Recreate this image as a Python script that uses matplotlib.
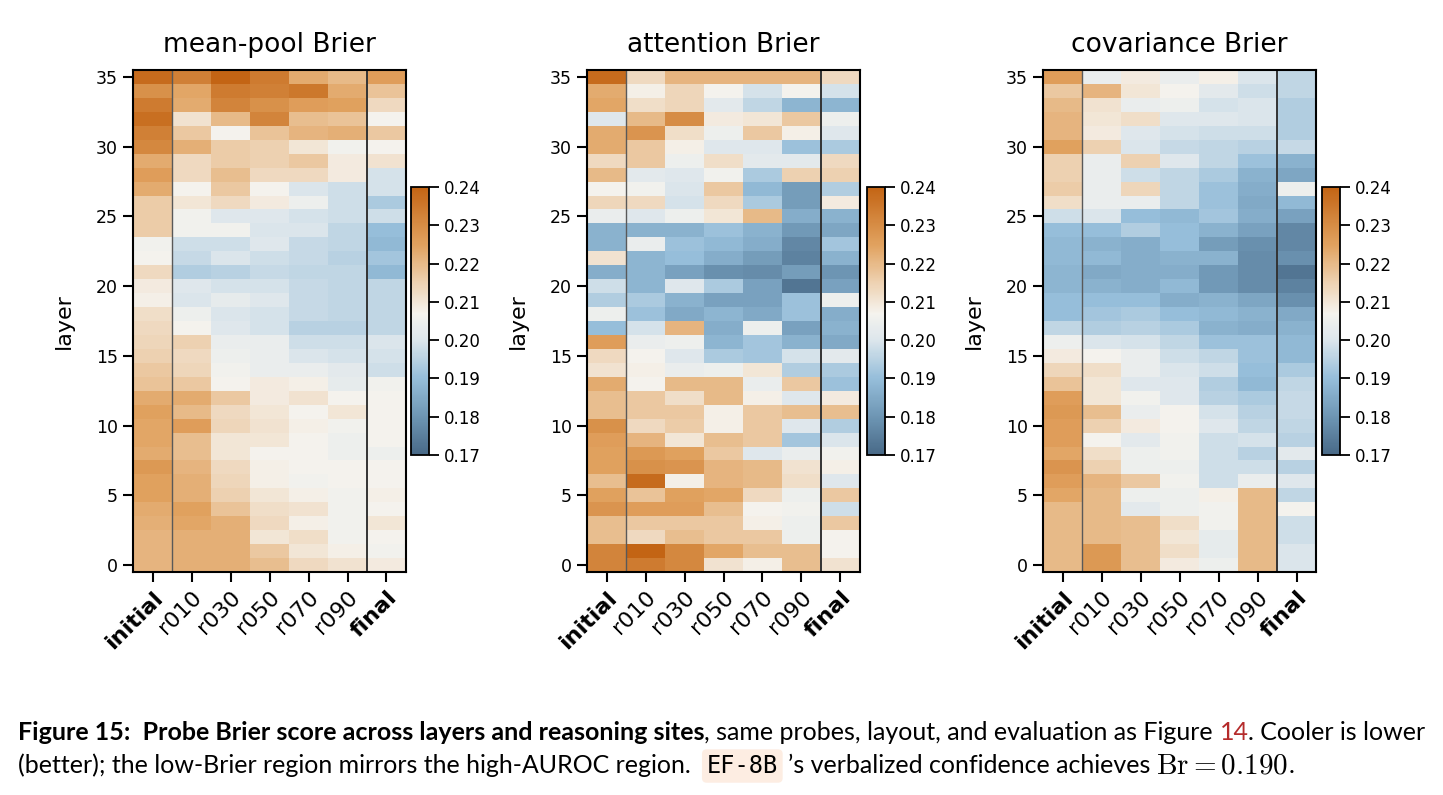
import matplotlib
matplotlib.use("Agg")
import matplotlib.pyplot as plt
import numpy as np
from matplotlib.colors import LinearSegmentedColormap, Normalize

# column labels (reasoning sites) and layers
sites = ["initial", "r010", "r030", "r050", "r070", "r090", "final"]
layers = np.arange(36)

# Brier per site, listed layer 0 -> 35
mean_initial = [0.221, 0.221, 0.221, 0.222, 0.223, 0.225, 0.225, 0.227, 0.223, 0.224, 0.224, 0.225, 0.223, 0.218, 0.217, 0.215, 0.214, 0.213,
                0.212, 0.208, 0.209, 0.213, 0.207, 0.206, 0.216, 0.216, 0.216, 0.223, 0.226, 0.223, 0.231, 0.233, 0.237, 0.234, 0.229, 0.238]
mean_r010 = [0.222, 0.222, 0.222, 0.224, 0.225, 0.222, 0.222, 0.221, 0.219, 0.219, 0.226, 0.220, 0.223, 0.217, 0.214, 0.213, 0.215, 0.207,
             0.205, 0.200, 0.201, 0.194, 0.197, 0.198, 0.206, 0.206, 0.210, 0.207, 0.213, 0.213, 0.222, 0.217, 0.211, 0.223, 0.224, 0.233]
mean_r030 = [0.222, 0.222, 0.222, 0.222, 0.218, 0.215, 0.214, 0.213, 0.210, 0.210, 0.214, 0.213, 0.217, 0.207, 0.206, 0.205, 0.204, 0.201,
             0.200, 0.203, 0.199, 0.195, 0.200, 0.198, 0.206, 0.201, 0.213, 0.217, 0.219, 0.216, 0.216, 0.207, 0.220, 0.232, 0.234, 0.240]
mean_r050 = [0.219, 0.217, 0.210, 0.213, 0.212, 0.210, 0.208, 0.208, 0.207, 0.210, 0.211, 0.210, 0.209, 0.209, 0.204, 0.204, 0.204, 0.199,
             0.199, 0.201, 0.199, 0.197, 0.198, 0.201, 0.200, 0.201, 0.209, 0.207, 0.213, 0.215, 0.215, 0.218, 0.232, 0.229, 0.233, 0.234]
mean_r070 = [0.213, 0.210, 0.212, 0.208, 0.211, 0.208, 0.206, 0.207, 0.207, 0.207, 0.208, 0.207, 0.211, 0.208, 0.204, 0.200, 0.198, 0.195,
             0.197, 0.197, 0.197, 0.196, 0.197, 0.197, 0.200, 0.199, 0.205, 0.200, 0.213, 0.217, 0.210, 0.221, 0.219, 0.226, 0.235, 0.223]
mean_r090 = [0.211, 0.208, 0.206, 0.206, 0.206, 0.206, 0.207, 0.207, 0.205, 0.205, 0.206, 0.210, 0.207, 0.203, 0.202, 0.199, 0.198, 0.195,
             0.196, 0.196, 0.196, 0.196, 0.195, 0.196, 0.196, 0.198, 0.198, 0.198, 0.209, 0.209, 0.206, 0.222, 0.218, 0.225, 0.223, 0.220]
mean_final = [0.209, 0.206, 0.207, 0.210, 0.207, 0.208, 0.207, 0.207, 0.205, 0.207, 0.207, 0.207, 0.207, 0.206, 0.198, 0.199, 0.200, 0.196,
              0.196, 0.196, 0.196, 0.189, 0.192, 0.189, 0.190, 0.198, 0.193, 0.199, 0.199, 0.211, 0.207, 0.217, 0.207, 0.213, 0.218, 0.226]

att_initial = [0.232, 0.232, 0.219, 0.219, 0.228, 0.225, 0.219, 0.225, 0.225, 0.226, 0.229, 0.219, 0.219, 0.223, 0.211, 0.213, 0.226, 0.190,
               0.205, 0.194, 0.198, 0.186, 0.211, 0.187, 0.187, 0.204, 0.214, 0.207, 0.220, 0.213, 0.223, 0.223, 0.201, 0.224, 0.223, 0.238]
att_r010 = [0.234, 0.240, 0.213, 0.217, 0.226, 0.218, 0.238, 0.229, 0.227, 0.221, 0.213, 0.217, 0.217, 0.207, 0.208, 0.207, 0.204, 0.199,
            0.191, 0.193, 0.188, 0.188, 0.188, 0.204, 0.187, 0.201, 0.213, 0.206, 0.202, 0.217, 0.217, 0.228, 0.220, 0.212, 0.208, 0.213]
att_r030 = [0.231, 0.231, 0.219, 0.217, 0.226, 0.225, 0.208, 0.228, 0.225, 0.210, 0.216, 0.217, 0.212, 0.220, 0.204, 0.201, 0.205, 0.221,
            0.185, 0.187, 0.201, 0.183, 0.190, 0.191, 0.187, 0.205, 0.199, 0.200, 0.201, 0.205, 0.208, 0.212, 0.230, 0.214, 0.214, 0.221]
att_r050 = [0.211, 0.224, 0.217, 0.217, 0.219, 0.224, 0.221, 0.221, 0.217, 0.219, 0.208, 0.208, 0.220, 0.220, 0.205, 0.193, 0.188, 0.186,
            0.188, 0.183, 0.193, 0.179, 0.186, 0.189, 0.191, 0.210, 0.213, 0.217, 0.206, 0.212, 0.201, 0.205, 0.209, 0.202, 0.207, 0.221]
att_r070 = [0.208, 0.219, 0.217, 0.208, 0.207, 0.213, 0.220, 0.220, 0.201, 0.217, 0.217, 0.217, 0.208, 0.204, 0.210, 0.192, 0.192, 0.205,
            0.185, 0.183, 0.183, 0.178, 0.182, 0.186, 0.187, 0.220, 0.193, 0.189, 0.193, 0.202, 0.201, 0.217, 0.210, 0.196, 0.199, 0.221]
att_r090 = [0.219, 0.219, 0.205, 0.205, 0.206, 0.205, 0.212, 0.211, 0.204, 0.192, 0.201, 0.219, 0.201, 0.217, 0.194, 0.199, 0.187, 0.183,
            0.191, 0.191, 0.173, 0.182, 0.176, 0.177, 0.181, 0.186, 0.182, 0.182, 0.215, 0.202, 0.191, 0.208, 0.217, 0.188, 0.207, 0.221]
att_final = [0.211, 0.207, 0.207, 0.217, 0.198, 0.217, 0.201, 0.208, 0.206, 0.200, 0.194, 0.219, 0.209, 0.191, 0.193, 0.202, 0.185, 0.187,
             0.186, 0.205, 0.183, 0.180, 0.187, 0.192, 0.184, 0.187, 0.209, 0.194, 0.215, 0.213, 0.193, 0.201, 0.205, 0.188, 0.199, 0.213]

cov_initial = [0.220, 0.220, 0.220, 0.220, 0.220, 0.224, 0.226, 0.228, 0.224, 0.226, 0.226, 0.227, 0.226, 0.218, 0.214, 0.209, 0.205, 0.196,
               0.190, 0.190, 0.188, 0.188, 0.189, 0.189, 0.190, 0.198, 0.212, 0.216, 0.215, 0.215, 0.225, 0.221, 0.221, 0.220, 0.217, 0.226]
cov_r010 = [0.227, 0.227, 0.220, 0.220, 0.220, 0.220, 0.221, 0.215, 0.212, 0.207, 0.215, 0.219, 0.210, 0.210, 0.212, 0.207, 0.200, 0.194,
            0.192, 0.190, 0.187, 0.185, 0.189, 0.187, 0.190, 0.200, 0.204, 0.204, 0.204, 0.204, 0.215, 0.209, 0.210, 0.211, 0.221, 0.204]
cov_r030 = [0.219, 0.219, 0.219, 0.219, 0.202, 0.205, 0.217, 0.205, 0.205, 0.202, 0.209, 0.204, 0.206, 0.201, 0.204, 0.204, 0.199, 0.195,
            0.193, 0.190, 0.186, 0.186, 0.186, 0.186, 0.194, 0.190, 0.204, 0.214, 0.198, 0.215, 0.200, 0.201, 0.212, 0.204, 0.210, 0.209]
cov_r050 = [0.209, 0.212, 0.210, 0.212, 0.205, 0.205, 0.206, 0.205, 0.206, 0.206, 0.207, 0.207, 0.201, 0.201, 0.200, 0.198, 0.196, 0.193,
            0.190, 0.186, 0.189, 0.186, 0.187, 0.190, 0.190, 0.189, 0.196, 0.196, 0.196, 0.201, 0.197, 0.199, 0.201, 0.205, 0.207, 0.204]
cov_r070 = [0.205, 0.203, 0.203, 0.206, 0.206, 0.208, 0.198, 0.198, 0.198, 0.198, 0.201, 0.199, 0.195, 0.194, 0.198, 0.196, 0.191, 0.187,
            0.189, 0.187, 0.181, 0.181, 0.187, 0.182, 0.187, 0.192, 0.191, 0.191, 0.193, 0.196, 0.196, 0.198, 0.201, 0.199, 0.202, 0.208]
cov_r090 = [0.220, 0.220, 0.220, 0.220, 0.220, 0.220, 0.204, 0.198, 0.195, 0.199, 0.196, 0.195, 0.193, 0.189, 0.190, 0.191, 0.191, 0.186,
            0.187, 0.184, 0.178, 0.178, 0.178, 0.179, 0.183, 0.186, 0.185, 0.186, 0.187, 0.191, 0.195, 0.198, 0.200, 0.200, 0.198, 0.200]
cov_final = [0.200, 0.200, 0.198, 0.198, 0.207, 0.196, 0.201, 0.195, 0.202, 0.195, 0.196, 0.197, 0.197, 0.196, 0.193, 0.189, 0.189, 0.187,
             0.185, 0.179, 0.176, 0.173, 0.179, 0.177, 0.177, 0.183, 0.189, 0.205, 0.184, 0.187, 0.197, 0.194, 0.194, 0.194, 0.196, 0.196]

panels = [
    ("mean-pool Brier", [mean_initial, mean_r010, mean_r030, mean_r050, mean_r070, mean_r090, mean_final]),
    ("attention Brier", [att_initial, att_r010, att_r030, att_r050, att_r070, att_r090, att_final]),
    ("covariance Brier", [cov_initial, cov_r010, cov_r030, cov_r050, cov_r070, cov_r090, cov_final]),
]

vmin, vmax = 0.17, 0.24
cbar_ticks = [0.17, 0.18, 0.19, 0.20, 0.21, 0.22, 0.23, 0.24]

# blue -> white -> orange, white near 0.206
nodes = [(0.17, (72, 105, 135)), (0.18, (110, 150, 180)), (0.19, (150, 190, 218)),
         (0.20, (220, 230, 236)), (0.207, (245, 243, 238)), (0.215, (238, 210, 178)),
         (0.225, (225, 162, 95)), (0.24, (195, 100, 20))]
cmap = LinearSegmentedColormap.from_list(
    "brier", [((v - vmin) / (vmax - vmin), tuple(c / 255 for c in rgb)) for v, rgb in nodes])
norm = Normalize(vmin, vmax)

plt.rcParams["mathtext.fontset"] = "cm"
plt.rcParams["font.family"] = "DejaVu Sans"

W, H = 1443, 795
fig = plt.figure(figsize=(W / 100, H / 100), dpi=100)

ax_lefts = [133, 587, 1043]
cb_lefts = [411, 867, 1322]
ax_w, ax_top, ax_bot = 273, 70, 572
cb_w, cb_top, cb_bot = 18, 187, 455

for k, (title, cols) in enumerate(panels):
    ax = fig.add_axes([ax_lefts[k] / W, (H - ax_bot) / H, ax_w / W, (ax_bot - ax_top) / H])
    grid = np.array(cols).T  # rows = layers, cols = sites
    im = ax.imshow(grid, cmap=cmap, norm=norm, origin="lower", aspect="auto",
                   interpolation="nearest", extent=(-0.5, 6.5, -0.5, 35.5))
    ax.axvline(0.5, color="0.35", lw=1.0)
    ax.axvline(5.5, color="0.2", lw=1.4)
    ax.set_xticks(range(len(sites)))
    ax.set_xticklabels(sites, rotation=45, ha="right", rotation_mode="anchor", fontsize=16)
    for lab in ax.get_xticklabels():
        if lab.get_text() in ("initial", "final"):
            lab.set_fontweight("bold")
    ax.set_yticks(range(0, 36, 5))
    ax.tick_params(axis="y", labelsize=12.5, length=7, width=1.5, pad=4)
    ax.tick_params(axis="x", length=7, width=1.5, pad=4)
    ax.set_ylabel("layer", fontsize=16, labelpad=16)
    ax.set_title(title, fontsize=19, pad=13)
    for sp in ax.spines.values():
        sp.set_linewidth(1.5)

    cax = fig.add_axes([cb_lefts[k] / W, (H - cb_bot) / H, cb_w / W, (cb_bot - cb_top) / H])
    cb = fig.colorbar(im, cax=cax)
    cb.set_ticks(cbar_ticks)
    cb.set_ticklabels(["%.2f" % t for t in cbar_ticks])
    cb.ax.tick_params(labelsize=12, length=7, width=1.3)
    cb.outline.set_linewidth(1.3)

# caption, drawn piece by piece
renderer = fig.canvas.get_renderer()
cap_font = "Lato"
cap_size = 18


def draw_line(x_px, y_px, pieces):
    x = x_px
    for text, kw in pieces:
        t = fig.text(x / W, 1 - y_px / H, text, va="baseline", ha="left", **kw)
        x = t.get_window_extent(renderer).x1
    return x


probe = fig.text(0, 0, "a a", family=cap_font, fontsize=cap_size)
probe2 = fig.text(0, 0, "aa", family=cap_font, fontsize=cap_size)
space = probe.get_window_extent(renderer).width - probe2.get_window_extent(renderer).width
probe.remove()
probe2.remove()

base = dict(family=cap_font, fontsize=cap_size)
bold = dict(family=cap_font, fontsize=cap_size, fontweight="bold")

x_end = draw_line(18, 740, [
    ("Figure 15:  Probe Brier score across layers and reasoning sites", bold),
    (", same probes, layout, and evaluation as Figure", base),
])
x_end = draw_line(x_end + space, 740, [
    ("14", dict(base, color="#b52b2b")),
    (". Cooler is lower", base),
])

x_end = draw_line(18, 773, [("(better); the low-Brier region mirrors the high-AUROC region.", base)])
x_end += 2.5 * space
t = fig.text(x_end / W, 1 - 773 / H, "EF-8B", va="baseline", ha="left",
             family="DejaVu Sans Mono", fontsize=17,
             bbox=dict(boxstyle="round,pad=0.2", fc="#fdede2", ec="none"))
x_end = t.get_window_extent(renderer).x1 + 1.5 * space
x_end = draw_line(x_end, 773, [("\u2019s verbalized confidence achieves", base)])
draw_line(x_end + space, 773, [
    (r"$\mathrm{Br} = 0.190$", dict(base, fontsize=21)),
    (".", base),
])

fig.savefig("out.png", dpi=100)
